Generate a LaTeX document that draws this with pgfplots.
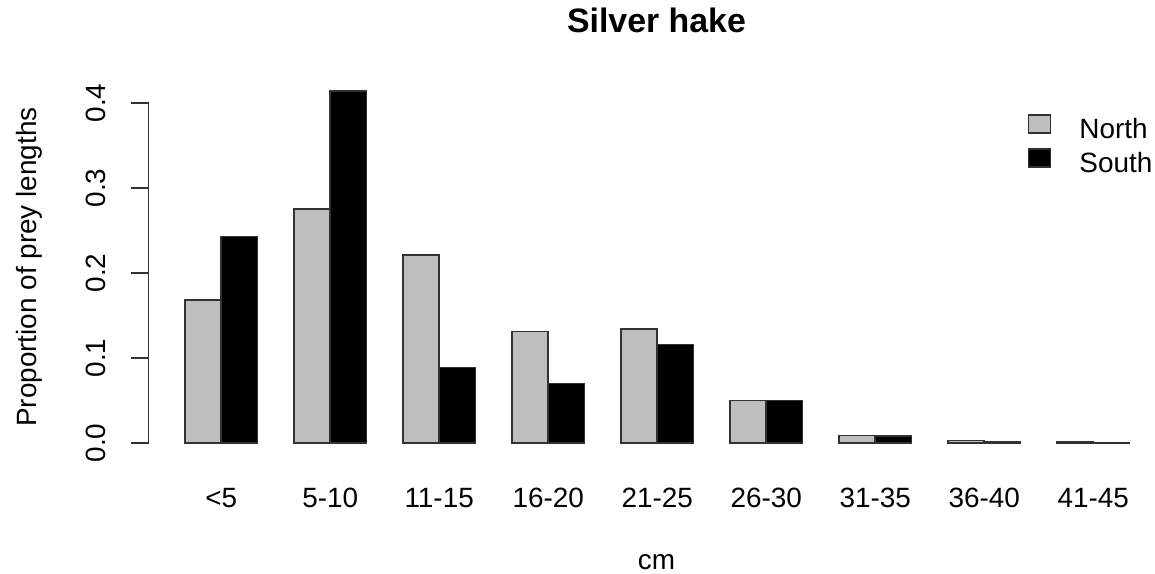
\documentclass[border=0pt]{standalone}
\usepackage{fontspec}
\setmainfont{Liberation Sans}
\usepackage{pgfplots}
\pgfplotsset{compat=1.18}
\definecolor{rgray}{RGB}{190,190,190}
\definecolor{edge}{RGB}{50,50,50}
\pgfplotsset{
  mylegend/.style={legend image code/.code={\draw[##1] (0bp,-2bp) rectangle (11bp,7bp); \path (25bp,0bp);}}
}
\begin{document}
\begin{tikzpicture}
\useasboundingbox (0,0) rectangle (577.5bp,287bp);
\begin{axis}[
  at={(74.25bp,65.5bp)}, anchor=south west,
  x=18.1667bp, y=425bp,
  xmin=0, xmax=27.5, ymin=0, ymax=0.4,
  clip=false,
  axis x line*=bottom, axis y line*=left,
  x axis line style={draw=none},
  y axis line style={-, line width=0.75bp, draw=edge},
  tick align=outside, major tick length=9bp,
  xtick={2,5,8,11,14,17,20,23,26},
  xticklabels={<5,5-10,11-15,16-20,21-25,26-30,31-35,36-40,41-45},
  xtick style={draw=none},
  ytick={0,0.1,0.2,0.3,0.4},
  yticklabels={0.0,0.1,0.2,0.3,0.4},
  ytick style={line width=0.75bp, draw=edge},
  tick label style={font=\fontsize{14}{16}\selectfont, inner sep=0pt},
  xticklabel style={anchor=base},
  yticklabel style={rotate=90, anchor=base},
  xticklabel shift=23bp,
  yticklabel shift=12.5bp,
  every axis title/.style={at={(axis description cs:0.5084,1.2088)}, anchor=base, inner sep=0pt, font=\fontsize{17}{20}\selectfont\bfseries},
  every axis x label/.style={at={(axis description cs:0.5084,-0.3706)}, anchor=base, inner sep=0pt, font=\fontsize{14}{16}\selectfont},
  every axis y label/.style={at={(axis description cs:-0.1119,0.5176)}, rotate=90, anchor=base, inner sep=0pt, font=\fontsize{14}{16}\selectfont},
  title={Silver hake},
  xlabel={cm},
  ylabel={Proportion of prey lengths},
  legend style={draw=none, fill=none, at={(axis description cs:0.8802,0.9676)}, anchor=north west, inner sep=0pt, outer sep=0pt, row sep=2bp,
    nodes={inner sep=0pt, font=\fontsize{14}{16}\selectfont, text height=12bp, text depth=3bp}},
  legend cell align=left,
]
\addplot[ybar, bar width=1, bar shift=0pt, fill=rgray, draw=edge, line width=0.75bp, mylegend] coordinates {
 (1.5,0.168) (4.5,0.275) (7.5,0.221) (10.5,0.131) (13.5,0.134) (16.5,0.050) (19.5,0.009) (22.5,0.003) (25.5,0.0012)};
\addplot[ybar, bar width=1, bar shift=0pt, fill=black, draw=edge, line width=0.75bp, mylegend] coordinates {
 (2.5,0.243) (5.5,0.414) (8.5,0.089) (11.5,0.070) (14.5,0.116) (17.5,0.050) (20.5,0.008) (23.5,0.001) (26.5,0.0006)};
\legend{North,South}
\end{axis}
\end{tikzpicture}
\end{document}
